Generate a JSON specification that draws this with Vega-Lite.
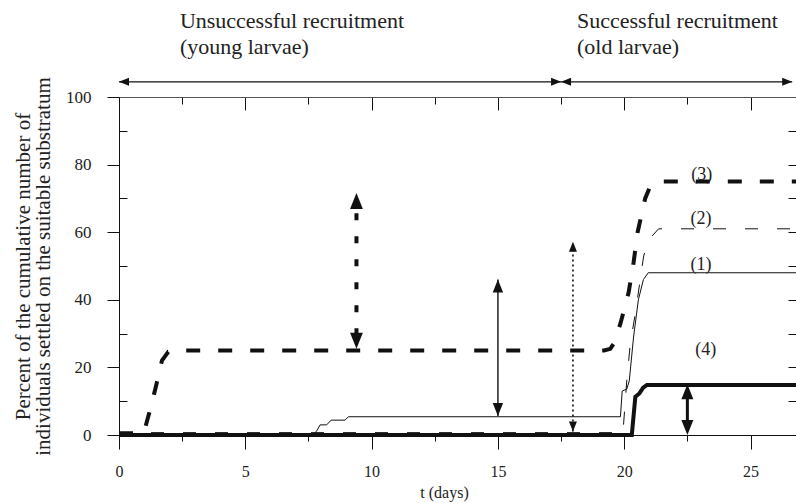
{
  "$schema": "https://vega.github.io/schema/vega-lite/v6.json",
  "width": 677,
  "height": 338,
  "autosize": {"type": "none"},
  "padding": {"left": 119, "top": 97, "right": 0, "bottom": 68},
  "background": "white",
  "config": {
    "view": {"stroke": null},
    "font": "Liberation Serif",
    "axis": {
      "labelFont": "Liberation Serif",
      "titleFont": "Liberation Serif",
      "labelColor": "#222",
      "titleColor": "#222",
      "domainColor": "#111",
      "tickColor": "#111",
      "grid": false,
      "titleFontWeight": "normal",
      "labelFlush": false,
      "labelOverlap": false
    }
  },
  "datasets": {
    "curves": [
      {"s": "1", "t": 0, "v": 0}, {"s": "1", "t": 7.7, "v": 0}, {"s": "1", "t": 7.85, "v": 1.5}, {"s": "1", "t": 7.96, "v": 3.0},
      {"s": "1", "t": 8.22, "v": 3.0}, {"s": "1", "t": 8.4, "v": 4.4}, {"s": "1", "t": 8.95, "v": 4.4}, {"s": "1", "t": 9.08, "v": 5.4},
      {"s": "1", "t": 19.85, "v": 5.4}, {"s": "1", "t": 19.92, "v": 13}, {"s": "1", "t": 20.1, "v": 13.6}, {"s": "1", "t": 20.2, "v": 16},
      {"s": "1", "t": 20.37, "v": 29}, {"s": "1", "t": 20.56, "v": 40}, {"s": "1", "t": 20.76, "v": 46}, {"s": "1", "t": 20.95, "v": 48},
      {"s": "1", "t": 26.8, "v": 48},
      {"s": "2", "t": 0, "v": 0.7}, {"s": "2", "t": 19.95, "v": 0.7}, {"s": "2", "t": 20.1, "v": 16}, {"s": "2", "t": 20.24, "v": 27},
      {"s": "2", "t": 20.44, "v": 36}, {"s": "2", "t": 20.77, "v": 53}, {"s": "2", "t": 21.0, "v": 58}, {"s": "2", "t": 21.36, "v": 61},
      {"s": "2", "t": 26.8, "v": 61},
      {"s": "3", "t": 0, "v": 0.5}, {"s": "3", "t": 0.95, "v": 0.5}, {"s": "3", "t": 1.05, "v": 2.5}, {"s": "3", "t": 1.25, "v": 8},
      {"s": "3", "t": 1.45, "v": 14}, {"s": "3", "t": 1.7, "v": 22}, {"s": "3", "t": 1.95, "v": 24.6}, {"s": "3", "t": 2.3, "v": 25},
      {"s": "3", "t": 19.2, "v": 25}, {"s": "3", "t": 19.45, "v": 25.5}, {"s": "3", "t": 19.62, "v": 27.5}, {"s": "3", "t": 19.85, "v": 33},
      {"s": "3", "t": 20.17, "v": 42}, {"s": "3", "t": 20.37, "v": 51}, {"s": "3", "t": 20.53, "v": 60}, {"s": "3", "t": 20.83, "v": 70},
      {"s": "3", "t": 21.05, "v": 74}, {"s": "3", "t": 21.3, "v": 75}, {"s": "3", "t": 26.8, "v": 75},
      {"s": "4", "t": 0, "v": 0}, {"s": "4", "t": 20.3, "v": 0}, {"s": "4", "t": 20.44, "v": 11.3}, {"s": "4", "t": 20.6, "v": 12.3},
      {"s": "4", "t": 20.75, "v": 14}, {"s": "4", "t": 20.9, "v": 14.8}, {"s": "4", "t": 26.8, "v": 14.8}
    ],
    "hArrows": [
      {"t": 0, "t2": 17.5, "v": 104.5},
      {"t": 17.5, "t2": 26.65, "v": 104.5}
    ],
    "vArrows": [
      {"kind": "dottedThick", "t": 9.4, "v": 29.5, "v2": 67.5},
      {"kind": "solidThin", "t": 15.0, "v": 5.6, "v2": 46},
      {"kind": "dottedThin", "t": 17.97, "v": 1, "v2": 57.2},
      {"kind": "solidThick", "t": 22.5, "v": 2, "v2": 13}
    ],
    "heads": [
      {"kind": "top", "dir": "left", "t": 0, "v": 104.5},
      {"kind": "top", "dir": "right", "t": 17.5, "v": 104.5},
      {"kind": "top", "dir": "left", "t": 17.5, "v": 104.5},
      {"kind": "top", "dir": "right", "t": 26.65, "v": 104.5},
      {"kind": "dottedThick", "dir": "up", "t": 9.4, "v": 71.6},
      {"kind": "dottedThick", "dir": "down", "t": 9.4, "v": 25.5},
      {"kind": "solidThin", "dir": "up", "t": 15.0, "v": 46},
      {"kind": "solidThin", "dir": "down", "t": 15.0, "v": 5.6},
      {"kind": "dottedThin", "dir": "up", "t": 17.97, "v": 57.2},
      {"kind": "dottedThin", "dir": "down", "t": 17.97, "v": 1},
      {"kind": "solidThick", "dir": "up", "t": 22.5, "v": 15},
      {"kind": "solidThick", "dir": "down", "t": 22.5, "v": 0}
    ],
    "curveLabels": [
      {"t": 23.07, "v": 76.8, "text": "(3)"},
      {"t": 23.04, "v": 63.9, "text": "(2)"},
      {"t": 23.04, "v": 50.3, "text": "(1)"},
      {"t": 23.23, "v": 25.1, "text": "(4)"}
    ],
    "headers": [
      {"t": 2.41, "v": 120.4, "text": "Unsuccessful recruitment"},
      {"t": 2.41, "v": 112.6, "text": "(young larvae)"},
      {"t": 18.13, "v": 120.4, "text": "Successful recruitment"},
      {"t": 18.13, "v": 112.6, "text": "(old larvae)"}
    ]
  },
  "layer": [
    {
      "data": {"name": "curves"},
      "transform": [{"filter": "datum.s === '1'"}],
      "mark": {"type": "line", "color": "#111", "strokeWidth": 1},
      "encoding": {
        "x": {
          "field": "t", "type": "quantitative",
          "scale": {"domain": [0, 26.8], "nice": false, "zero": false},
          "axis": {
            "orient": "bottom",
            "values": [0, 2.5, 5, 7.5, 10, 12.5, 15, 17.5, 20, 22.5, 25],
            "labelExpr": "datum.value % 5 === 0 ? format(datum.value, 'd') : ''",
            "tickSize": {"condition": {"test": "datum.value % 5 === 0", "value": 14}, "value": 6},
            "labelPadding": 14,
            "labelFontSize": 16,
            "title": "t (days)",
            "titleFontSize": 16,
            "titleX": 325,
            "titleY": 62,
            "titleAlign": "center",
            "titleBaseline": "alphabetic"
          }
        },
        "y": {
          "field": "v", "type": "quantitative",
          "scale": {"domain": [0, 100], "nice": false, "zero": false},
          "axis": {
            "orient": "left",
            "values": [0, 10, 20, 30, 40, 50, 60, 70, 80, 90, 100],
            "labelExpr": "datum.value % 20 === 0 ? format(datum.value, 'd') : ''",
            "tickSize": {"condition": {"test": "datum.value % 20 === 0", "value": 12}, "value": -8},
            "labelPadding": 16,
            "labelFontSize": 17,
            "title": ["Percent of the cumulative number of", "individuals settled on the suitable substratum"],
            "titleFontSize": 21,
            "titleLineHeight": 20,
            "titleAngle": -90,
            "titleX": -90,
            "titleY": 169,
            "titleAlign": "center",
            "titleBaseline": "alphabetic"
          }
        }
      }
    },
    {
      "data": {"name": "curves"},
      "transform": [{"filter": "datum.s === '2'"}],
      "mark": {"type": "line", "color": "#111", "strokeWidth": 1, "strokeDash": [13, 19]},
      "encoding": {
        "x": {"field": "t", "type": "quantitative", "scale": {"domain": [0, 26.8], "nice": false, "zero": false}, "axis": null},
        "y": {"field": "v", "type": "quantitative", "scale": {"domain": [0, 100], "nice": false, "zero": false}, "axis": null}
      }
    },
    {
      "data": {"name": "curves"},
      "transform": [{"filter": "datum.s === '3'"}],
      "mark": {"type": "line", "color": "#111", "strokeWidth": 4, "strokeDash": [14, 18], "strokeCap": "butt"},
      "encoding": {
        "x": {"field": "t", "type": "quantitative", "scale": {"domain": [0, 26.8], "nice": false, "zero": false}, "axis": null},
        "y": {"field": "v", "type": "quantitative", "scale": {"domain": [0, 100], "nice": false, "zero": false}, "axis": null}
      }
    },
    {
      "data": {"name": "curves"},
      "transform": [{"filter": "datum.s === '4'"}],
      "mark": {"type": "line", "color": "#111", "strokeWidth": 4},
      "encoding": {
        "x": {"field": "t", "type": "quantitative", "scale": {"domain": [0, 26.8], "nice": false, "zero": false}, "axis": null},
        "y": {"field": "v", "type": "quantitative", "scale": {"domain": [0, 100], "nice": false, "zero": false}, "axis": null}
      }
    },
    {
      "data": {"name": "hArrows"},
      "mark": {"type": "rule", "color": "#111", "strokeWidth": 1.2},
      "encoding": {
        "x": {
          "field": "t", "type": "quantitative",
          "scale": {"domain": [0, 26.8], "nice": false, "zero": false},
          "axis": {
            "orient": "top",
            "values": [0, 2.5, 5, 7.5, 10, 12.5, 15, 17.5, 20, 22.5, 25],
            "labels": false,
            "title": null,
            "domainColor": "#555",
            "tickSize": {"condition": {"test": "datum.value % 5 === 0", "value": -13}, "value": -7}
          }
        },
        "x2": {"field": "t2"},
        "y": {
          "field": "v", "type": "quantitative",
          "scale": {"domain": [0, 100], "nice": false, "zero": false},
          "axis": {
            "orient": "right",
            "values": [10, 20, 30, 40, 50, 60, 70, 80, 90],
            "labels": false,
            "title": null,
            "domain": false,
            "tickSize": -8
          }
        }
      }
    },
    {
      "data": {"name": "vArrows"},
      "transform": [{"filter": "datum.kind === 'dottedThick'"}],
      "mark": {"type": "rule", "color": "#111", "strokeWidth": 4, "strokeDash": [7, 16]},
      "encoding": {
        "x": {"field": "t", "type": "quantitative", "scale": {"domain": [0, 26.8], "nice": false, "zero": false}, "axis": null},
        "y": {"field": "v", "type": "quantitative", "scale": {"domain": [0, 100], "nice": false, "zero": false}, "axis": null},
        "y2": {"field": "v2"}
      }
    },
    {
      "data": {"name": "vArrows"},
      "transform": [{"filter": "datum.kind === 'solidThin'"}],
      "mark": {"type": "rule", "color": "#111", "strokeWidth": 1.4},
      "encoding": {
        "x": {"field": "t", "type": "quantitative", "scale": {"domain": [0, 26.8], "nice": false, "zero": false}, "axis": null},
        "y": {"field": "v", "type": "quantitative", "scale": {"domain": [0, 100], "nice": false, "zero": false}, "axis": null},
        "y2": {"field": "v2"}
      }
    },
    {
      "data": {"name": "vArrows"},
      "transform": [{"filter": "datum.kind === 'dottedThin'"}],
      "mark": {"type": "rule", "color": "#111", "strokeWidth": 1.6, "strokeDash": [2, 3]},
      "encoding": {
        "x": {"field": "t", "type": "quantitative", "scale": {"domain": [0, 26.8], "nice": false, "zero": false}, "axis": null},
        "y": {"field": "v", "type": "quantitative", "scale": {"domain": [0, 100], "nice": false, "zero": false}, "axis": null},
        "y2": {"field": "v2"}
      }
    },
    {
      "data": {"name": "vArrows"},
      "transform": [{"filter": "datum.kind === 'solidThick'"}],
      "mark": {"type": "rule", "color": "#111", "strokeWidth": 3},
      "encoding": {
        "x": {"field": "t", "type": "quantitative", "scale": {"domain": [0, 26.8], "nice": false, "zero": false}, "axis": null},
        "y": {"field": "v", "type": "quantitative", "scale": {"domain": [0, 100], "nice": false, "zero": false}, "axis": null},
        "y2": {"field": "v2"}
      }
    },
    {
      "data": {"name": "heads"},
      "transform": [{"filter": "datum.kind === 'top' || datum.kind === 'dottedThin'"}],
      "mark": {"type": "point", "filled": true, "color": "#111", "opacity": 1, "size": 400, "strokeWidth": 0},
      "encoding": {
        "x": {"field": "t", "type": "quantitative", "scale": {"domain": [0, 26.8], "nice": false, "zero": false}, "axis": null},
        "y": {"field": "v", "type": "quantitative", "scale": {"domain": [0, 100], "nice": false, "zero": false}, "axis": null},
        "shape": {"field": "dir", "type": "nominal", "legend": null,
          "scale": {"domain": ["up", "down", "left", "right"], "range": ["M0,0L-0.4,1L0.4,1Z", "M0,0L-0.4,-1L0.4,-1Z", "M0,0L1,-0.4L1,0.4Z", "M0,0L-1,-0.4L-1,0.4Z"]}}
      }
    },
    {
      "data": {"name": "heads"},
      "transform": [{"filter": "datum.kind === 'solidThin'"}],
      "mark": {"type": "point", "filled": true, "color": "#111", "opacity": 1, "size": 676, "strokeWidth": 0},
      "encoding": {
        "x": {"field": "t", "type": "quantitative", "scale": {"domain": [0, 26.8], "nice": false, "zero": false}, "axis": null},
        "y": {"field": "v", "type": "quantitative", "scale": {"domain": [0, 100], "nice": false, "zero": false}, "axis": null},
        "shape": {"field": "dir", "type": "nominal", "legend": null,
          "scale": {"domain": ["up", "down", "left", "right"], "range": ["M0,0L-0.4,1L0.4,1Z", "M0,0L-0.4,-1L0.4,-1Z", "M0,0L1,-0.4L1,0.4Z", "M0,0L-1,-0.4L-1,0.4Z"]}}
      }
    },
    {
      "data": {"name": "heads"},
      "transform": [{"filter": "datum.kind === 'dottedThick'"}],
      "mark": {"type": "point", "filled": true, "color": "#111", "opacity": 1, "size": 1024, "strokeWidth": 0},
      "encoding": {
        "x": {"field": "t", "type": "quantitative", "scale": {"domain": [0, 26.8], "nice": false, "zero": false}, "axis": null},
        "y": {"field": "v", "type": "quantitative", "scale": {"domain": [0, 100], "nice": false, "zero": false}, "axis": null},
        "shape": {"field": "dir", "type": "nominal", "legend": null,
          "scale": {"domain": ["up", "down", "left", "right"], "range": ["M0,0L-0.4,1L0.4,1Z", "M0,0L-0.4,-1L0.4,-1Z", "M0,0L1,-0.4L1,0.4Z", "M0,0L-1,-0.4L-1,0.4Z"]}}
      }
    },
    {
      "data": {"name": "heads"},
      "transform": [{"filter": "datum.kind === 'solidThick'"}],
      "mark": {"type": "point", "filled": true, "color": "#111", "opacity": 1, "size": 900, "strokeWidth": 0},
      "encoding": {
        "x": {"field": "t", "type": "quantitative", "scale": {"domain": [0, 26.8], "nice": false, "zero": false}, "axis": null},
        "y": {"field": "v", "type": "quantitative", "scale": {"domain": [0, 100], "nice": false, "zero": false}, "axis": null},
        "shape": {"field": "dir", "type": "nominal", "legend": null,
          "scale": {"domain": ["up", "down", "left", "right"], "range": ["M0,0L-0.4,1L0.4,1Z", "M0,0L-0.4,-1L0.4,-1Z", "M0,0L1,-0.4L1,0.4Z", "M0,0L-1,-0.4L-1,0.4Z"]}}
      }
    },
    {
      "data": {"name": "curveLabels"},
      "mark": {"type": "text", "font": "Liberation Serif", "fontSize": 18, "color": "#222", "align": "center", "baseline": "middle"},
      "encoding": {
        "x": {"field": "t", "type": "quantitative", "scale": {"domain": [0, 26.8], "nice": false, "zero": false}, "axis": null},
        "y": {"field": "v", "type": "quantitative", "scale": {"domain": [0, 100], "nice": false, "zero": false}, "axis": null},
        "text": {"field": "text"}
      }
    },
    {
      "data": {"name": "headers"},
      "mark": {"type": "text", "font": "Liberation Serif", "fontSize": 22, "color": "#222", "align": "left", "baseline": "alphabetic"},
      "encoding": {
        "x": {"field": "t", "type": "quantitative", "scale": {"domain": [0, 26.8], "nice": false, "zero": false}, "axis": null},
        "y": {"field": "v", "type": "quantitative", "scale": {"domain": [0, 100], "nice": false, "zero": false}, "axis": null},
        "text": {"field": "text"}
      }
    }
  ],
  "resolve": {"axis": {"x": "independent", "y": "independent"}}
}
